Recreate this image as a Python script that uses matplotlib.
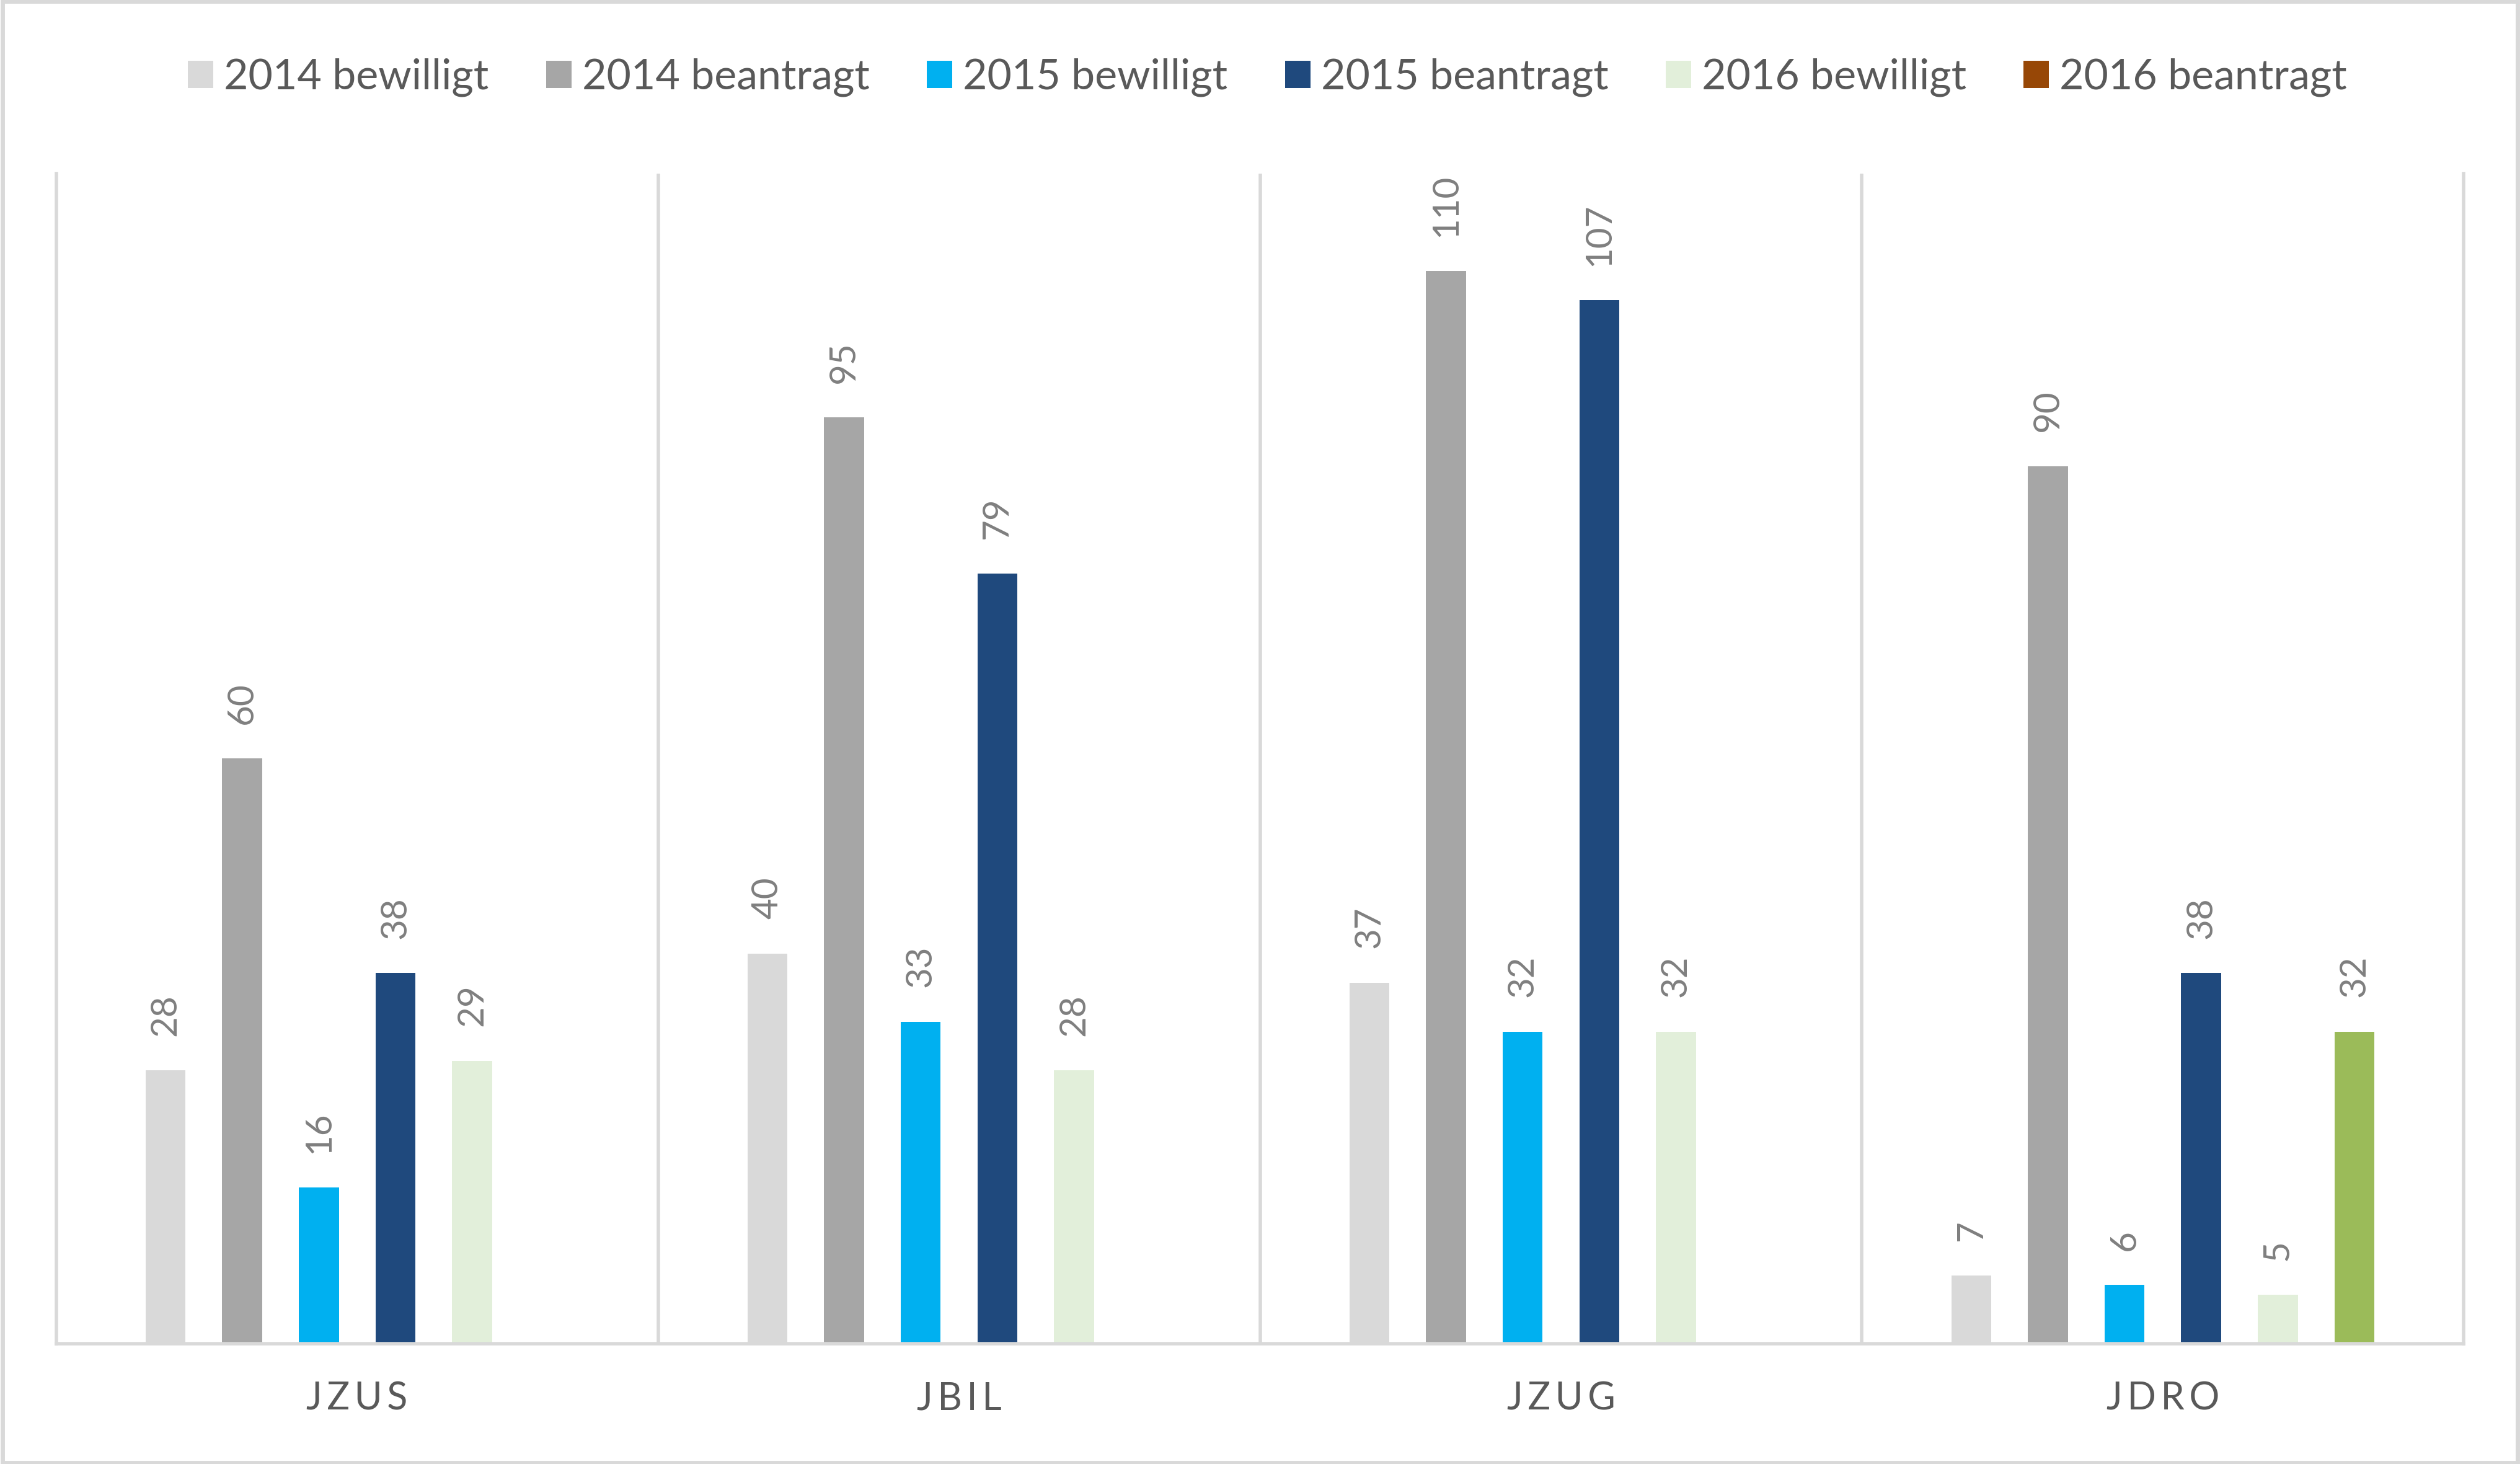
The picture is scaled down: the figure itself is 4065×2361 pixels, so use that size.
import numpy as np
import matplotlib
matplotlib.use("Agg")
import matplotlib.pyplot as plt
from matplotlib.patches import Rectangle

# data
categories = ["JZUS", "JBIL", "JZUG", "JDRO"]
series = ["2014 bewilligt", "2014 beantragt", "2015 bewilligt",
          "2015 beantragt", "2016 bewilligt", "2016 beantragt"]
v2014_bew = [28, 40, 37, 7]
v2014_bea = [60, 95, 110, 90]
v2015_bew = [16, 33, 32, 6]
v2015_bea = [38, 79, 107, 38]
v2016_bew = [29, 28, 32, 5]
v2016_bea = [np.nan, np.nan, np.nan, 32]
values = [v2014_bew, v2014_bea, v2015_bew, v2015_bea, v2016_bew, v2016_bea]

colors = ["#D9D9D9", "#A6A6A6", "#00B0F0", "#1F497D", "#E2EFDA", "#974706"]
JDRO_2016_COLOR = "#9BBB59"
GRID = "#D9D9D9"
TEXT = "#595959"
LABEL = "#7F7F7F"

plt.rcParams["font.family"] = ["Lato", "DejaVu Sans"]

fig = plt.figure(figsize=(40.65, 23.61), dpi=100)
ax = fig.add_axes([0.0223, 0.0823, 0.9554, 0.7991])

x = np.arange(len(categories))
slot = 0.1273
width = 0.0664

for i, (name, vals, col) in enumerate(zip(series, values, colors)):
    bars = ax.bar(x + (i - 2.5) * slot, vals, width, color=col, label=name)
    labels = ["" if np.isnan(v) else f"{v:g}" for v in vals]
    ax.bar_label(bars, labels=labels, rotation=90, padding=40,
                 fontsize=42, color=LABEL)
    if name == "2016 beantragt":
        bars.patches[3].set_facecolor(JDRO_2016_COLOR)

ax.set_xlim(-0.5, len(categories) - 0.5)
ax.set_ylim(0, 120)
ax.set_yticks([])
ax.set_xticks(x)
ax.set_xticklabels(["\u2009".join(c) for c in categories], fontsize=44, color=TEXT)
ax.tick_params(axis="x", length=0, pad=44)

ax.spines["top"].set_visible(False)
for s in ["left", "right", "bottom"]:
    ax.spines[s].set_color(GRID)
    ax.spines[s].set_linewidth(4)
for b in x[:-1] + 0.5:
    ax.axvline(b, color=GRID, lw=4, zorder=0)

fig.legend(loc="center", bbox_to_anchor=(0.503, 0.947), ncol=6, frameon=False,
           fontsize=49, labelcolor=TEXT, handlelength=0.6, handleheight=0.6,
           handletextpad=0.25, columnspacing=1.36)

fig.patches.append(Rectangle((0.001, 0.001), 0.998, 0.998, transform=fig.transFigure,
                             fill=False, edgecolor=GRID, lw=5))

fig.savefig("out.png", dpi=100)
